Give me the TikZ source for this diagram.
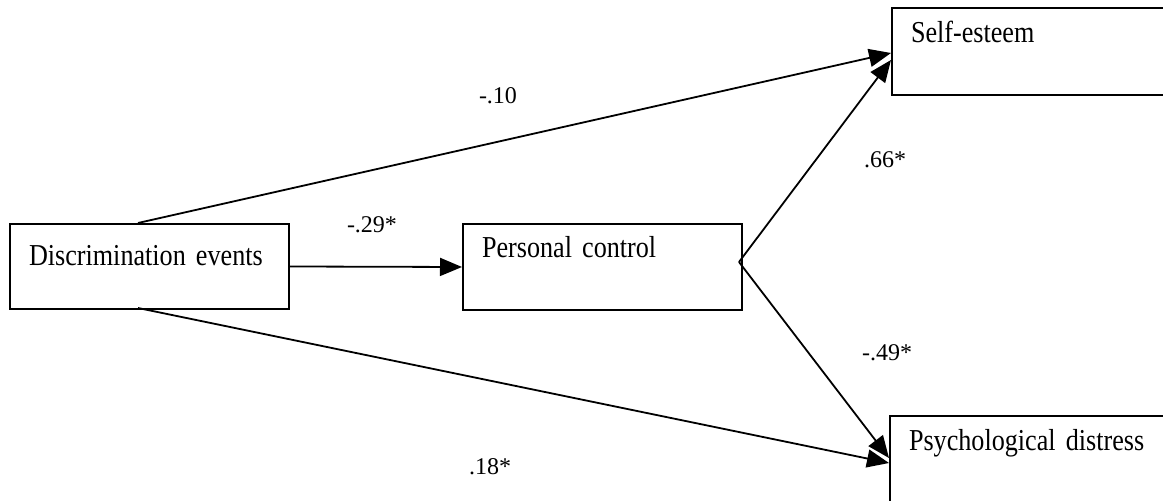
\documentclass[tikz,border=0pt]{standalone}
\usepackage{fontspec}
\setmainfont{Liberation Serif}
\newfontfamily\boxfont[FakeStretch=0.86,WordSpace=0.8]{Liberation Serif}
\usetikzlibrary{arrows.meta,positioning}

\begin{document}
\begin{tikzpicture}[x=0.5pt, y=-0.5pt,
   box/.style={rectangle, draw, line width=1pt, anchor=north west, align=left,
     inner xsep=9.5pt, inner ysep=0pt, font=\boxfont\fontsize{15.2}{17}\selectfont},
   link/.style={-{Triangle[length=11pt,width=9pt]}, line width=0.9pt},
   coef/.style={font=\fontsize{12}{14}\selectfont, inner sep=0pt}]
   \useasboundingbox (0,0) rectangle (1163,501);
   \clip (0,0) rectangle (1163,501);
   % variables
   \node[box, text width=120.5pt, text height=21pt, text depth=21.5pt] (de) at (9,223) {Discrimination events};
   \node[box, text width=120.5pt, text height=17pt, text depth=26pt] (pc) at (462,223) {Personal control};
   \node[box, text width=300pt, text height=17.5pt, text depth=26pt] (se) at (891,7) {Self-esteem};
   \node[box, text width=300pt, text height=17.5pt, text depth=60pt] (pd) at (889,415) {Psychological distress};
   % path ends
   \coordinate (deTop) at (138,223);
   \coordinate (deBot) at (138,308);
   \coordinate (pcOut) at (739,262);
   \coordinate (seIn1) at (891,53);
   \coordinate (seIn2) at (891,60);
   \coordinate (pdIn1) at (889,458);
   \coordinate (pdIn2) at (889,463);
   % paths
   \draw[link] (deTop) -- (seIn1);
   \draw[link] (pcOut) -- (seIn2);
   \draw[link] (de.east) -- (pc.west);
   \draw[link] (pcOut) -- (pdIn1);
   \draw[link] (deBot) -- (pdIn2);
   % coefficients
   \node[coef] (c1) at (498,96) {-.10};
   \node[coef] (c2) at (372,225) {-.29*};
   \node[coef] (c3) at (885,160) {.66*};
   \node[coef] (c4) at (887,353) {-.49*};
   \node[coef] (c5) at (490,467) {.18*};
\end{tikzpicture}
\end{document}
